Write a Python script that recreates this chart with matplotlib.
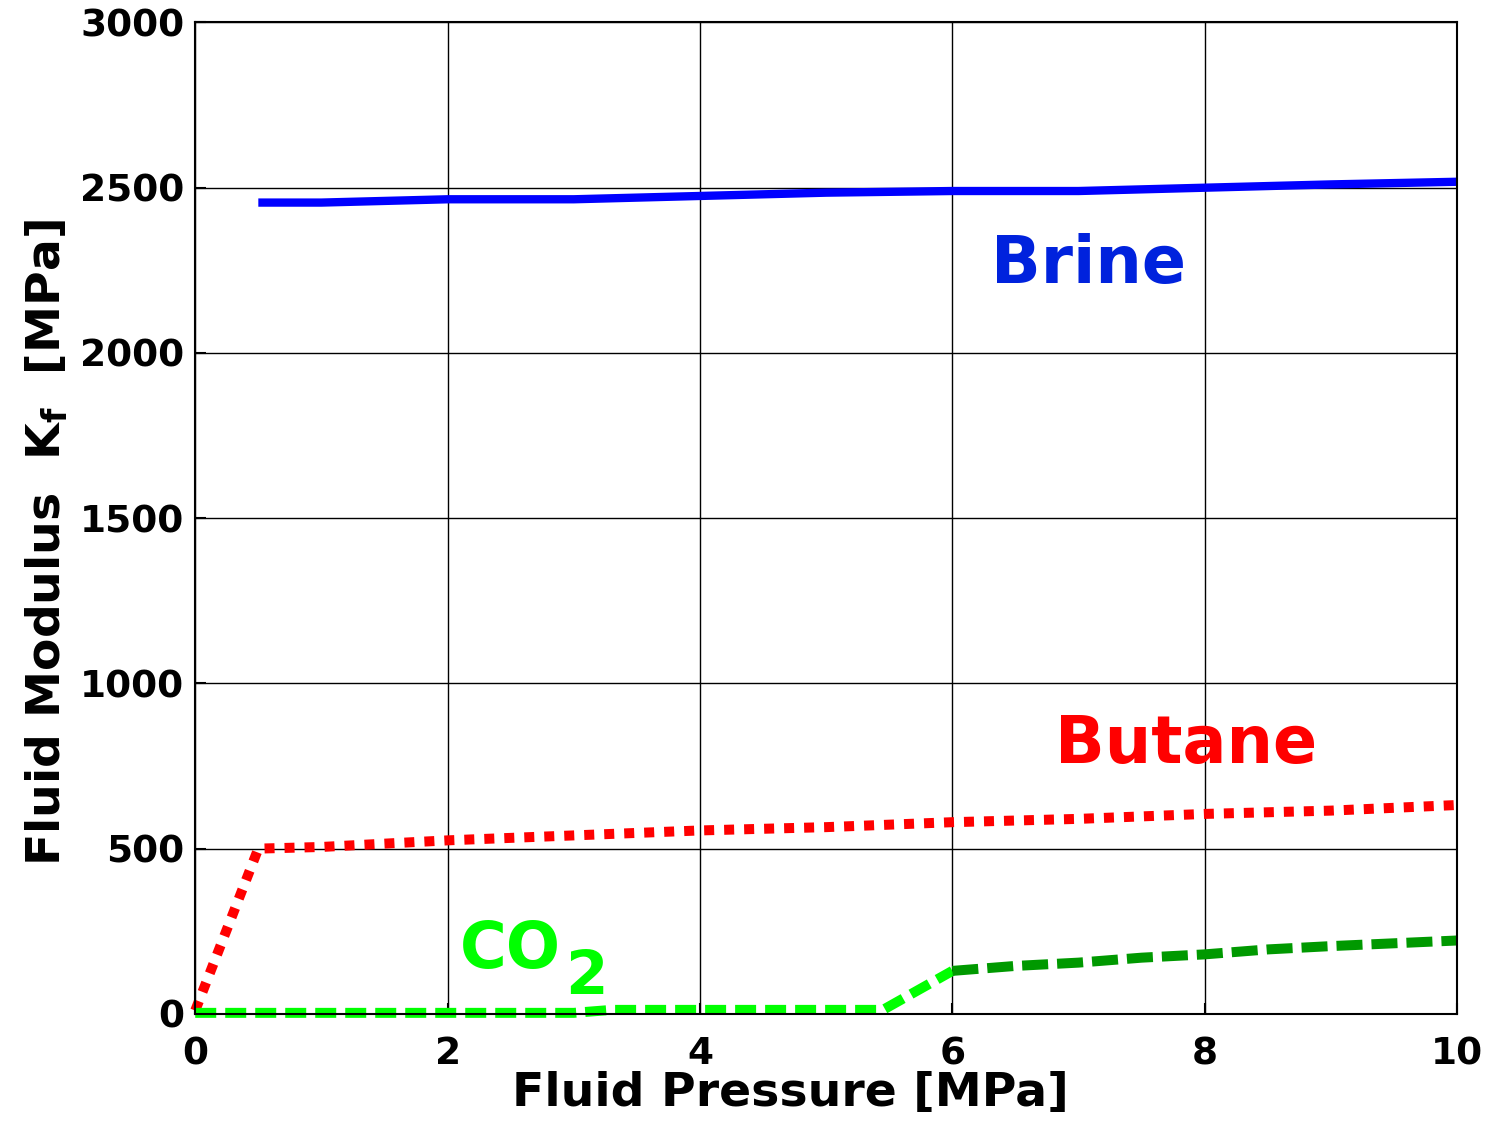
import numpy as np
import matplotlib
matplotlib.use('Agg')
import matplotlib.pyplot as plt

# fluid modulus vs pressure
brine_p = [0.5, 1, 2, 3, 4, 5, 6, 7, 8, 9, 10]
brine_k = [2455, 2455, 2465, 2465, 2475, 2485, 2490, 2490, 2500, 2510, 2518]

butane_p = [0, 0.5, 1, 2, 3, 4, 5, 6, 7, 8, 9, 10]
butane_k = [10, 500, 505, 525, 540, 555, 565, 580, 590, 605, 615, 632]

co2_gas_p = [0, 1, 2, 3, 3.3, 4, 5, 5.45, 6]
co2_gas_k = [3, 3, 3, 3, 12, 12, 12, 12, 130]

co2_sc_p = [6, 6.5, 7, 7.5, 8, 8.5, 9, 10]
co2_sc_k = [130, 145, 155, 170, 180, 195, 205, 222]

plt.rcParams['font.family'] = 'DejaVu Sans'
plt.rcParams['font.weight'] = 'bold'

fig = plt.figure(figsize=(14.96, 11.24), dpi=100)
ax = fig.add_axes([0.1305, 0.098, 0.8435, 0.882])

ax.plot(brine_p, brine_k, color='#0000ff', lw=6, solid_capstyle='butt')
ax.plot(butane_p, butane_k, color='#ff0000', lw=7.2, linestyle=(0, (1, 1)),
        clip_on=False)
ax.plot(co2_gas_p, co2_gas_k, color='#00ff00', lw=7.2, linestyle=(0, (2.1, 0.9)),
        clip_on=False)
ax.plot(co2_sc_p, co2_sc_k, color='#009900', lw=7.2, linestyle=(0, (2.6, 0.9)),
        clip_on=False)

ax.text(7.08, 2265, 'Brine', color='#0022dd', fontsize=47, fontweight='bold',
        ha='center', va='center')
ax.text(8.89, 813, 'Butane', color='#ff0000', fontsize=47, fontweight='bold',
        ha='right', va='center')
ax.text(2.1, 194, 'CO', color='#00ff00', fontsize=46,
        fontweight='bold', ha='left', va='center')
ax.text(2.93, 109, '2', color='#00ff00', fontsize=44,
        fontweight='bold', ha='left', va='center')

ax.set_xlim(0, 10)
ax.set_ylim(0, 3000)
ax.set_xticks(np.arange(0, 11, 2))
ax.set_yticks(np.arange(0, 3001, 500))
ax.grid(True, color='black', lw=1)
ax.tick_params(labelsize=27, direction='in', length=8, width=1.5)
ax.tick_params(axis='x', pad=16)
ax.tick_params(axis='y', pad=8)
for lab in ax.get_xticklabels() + ax.get_yticklabels():
    lab.set_fontweight('bold')
for s in ax.spines.values():
    s.set_linewidth(1.5)

ax.set_xlabel('Fluid Pressure [MPa]', fontsize=34, fontweight='bold')
ax.set_ylabel(r'Fluid Modulus  K$_\mathbf{f}$  [MPa]', fontsize=34,
              fontweight='bold')
ax.xaxis.set_label_coords(0.472, -0.058)
ax.yaxis.set_label_coords(-0.099, 0.475)

fig.savefig('out.png', dpi=100)
